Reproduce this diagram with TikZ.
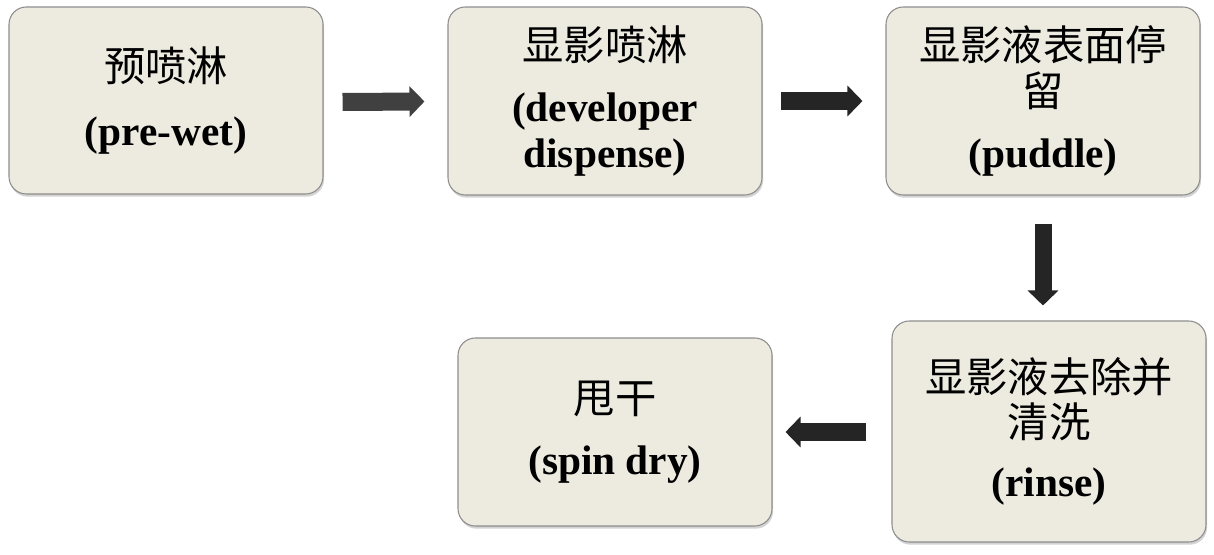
\documentclass[tikz,border=0pt]{standalone}
\usepackage{fontspec}
\setmainfont{Liberation Serif}
\newfontfamily\cjk{Noto Sans CJK SC}
\usetikzlibrary{shadows,arrows.meta,calc}
\definecolor{boxfill}{HTML}{EDEBE0}
\definecolor{boxline}{HTML}{8E8E8E}
\definecolor{arrA}{HTML}{404040}
\definecolor{arrB}{HTML}{252525}
\newcommand{\zh}[1]{{\cjk\fontsize{31}{34}\selectfont #1}}
\newcommand{\en}[1]{{\fontsize{31}{34}\selectfont\bfseries #1}}
\begin{document}
\begin{tikzpicture}[x=0.75pt,y=-0.75pt,
  stepbox/.style={draw=boxline, line width=0.8pt, fill=boxfill, rounded corners=13pt,
    minimum width=235.5pt, align=center, inner sep=0pt,
    font=\fontsize{30}{34}\selectfont,
    drop shadow={opacity=0.35, shadow xshift=0.8pt, shadow yshift=-2pt}},
  flowarrow/.style={line width=13.5pt, -{Triangle[length=11.25pt,width=22.5pt]}}]
\useasboundingbox (0,0) rectangle (1214,555);
\node[stepbox, minimum height=140.25pt] (b1) at (166,100.5)
  {\zh{预喷淋}\\[14pt]\en{(pre-wet)}};
\node[stepbox, minimum height=141pt] (b2) at (605,101)
  {\zh{显影喷淋}\\[12pt]\en{(developer}\\\en{dispense)}};
\node[stepbox, minimum height=141pt] (b3) at (1043,101)
  {\zh{显影液表面停}\\\zh{留}\\[12pt]\en{(puddle)}};
\node[stepbox, minimum height=165.75pt] (b4) at (1049,431.5)
  {\zh{显影液去除并}\\\zh{清洗}\\[10pt]\en{(rinse)}};
\node[stepbox, minimum height=141pt] (b5) at (615,432)
  {\zh{甩干}\\[12pt]\en{(spin dry)}};
\draw[flowarrow, arrA] ($(b1.east)+(19,1.5)$) -- ($(b2.west)+(-23,0.5)$);
\draw[flowarrow, arrB] ($(b2.east)+(18,0)$) -- ($(b3.west)+(-23,0)$);
\draw[flowarrow, arrB, line width=12.75pt] ($(b3.south)+(0,28)$) -- ($(b4.north)+(-6,-15)$);
\draw[flowarrow, arrB] ($(b4.west)+(-25,0.5)$) -- ($(b5.east)+(13,0)$);
\end{tikzpicture}
\end{document}
